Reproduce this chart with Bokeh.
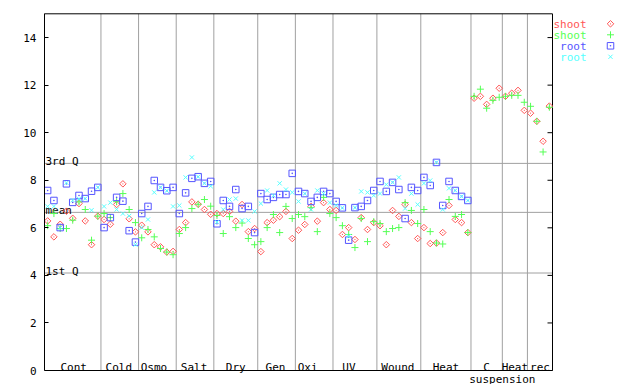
import math
from bokeh.plotting import figure
from bokeh.models import ColumnDataSource, LinearAxis, FixedTicker, Range1d, Label
from bokeh.core.properties import value
from bokeh.embed import file_html
from bokeh.resources import INLINE

nan = float("nan")

# ---------------- data ----------------
group_labels = ["Cont", "Cold", "Osmo", "Salt", "Dry", "Gen", "Oxi", "UV",
                "Wound", "Heat", "C", "Heat", "rec"]
group_sizes = [9, 6, 6, 6, 7, 6, 6, 7, 7, 8, 5, 4, 4]
sub_label = "suspension"
sub_label_group = 10  # index of "C" group, label set at its right edge

shoot_a = [6.29, 5.62, 6.15, 6.70, 6.40, 7.02, 6.29, 5.29, 6.49,
           6.35, 6.15, 6.98, 7.85, 6.38, 5.83,
           6.11, 5.83, 5.29, 5.20, 4.98, 5.01,
           5.93, 6.22, 7.09, 6.99, 6.77, 6.57,
           6.60, 6.60, 6.69, 6.28, 6.98, 5.84, 5.97,
           5.00, 6.22, 6.32, 6.47, 6.69, 5.55,
           5.90, 6.14, 6.90, 6.28, 7.06, 6.77,
           6.73, 5.72, 6.01, 5.51, 6.43, 5.93, 6.22,
           6.09, 5.29, 6.73, 6.48, 6.98, 6.22, 5.55,
           6.01, 5.34, 5.36, 5.80, 6.94, 6.35, 6.22, 5.80,
           11.45, 11.53, 11.19, 11.45, 11.87,
           11.53, 11.66, 11.78, 10.94,
           10.82, 10.48, 9.64, 11.12]
shoot_b = [6.09, 6.60, 5.97, 5.97, 6.32, 7.09, 6.77, 5.48, 6.49,
           6.60, 6.43, 7.10, 7.44, 6.77, 6.22,
           5.58, 5.93, 5.62, 5.13, 4.98, 4.87,
           5.76, 6.01, 6.81, 6.99, 7.19, 6.91,
           6.52, 5.76, 6.47, 6.01, 6.20, 5.55, 5.29,
           5.42, 6.01, 6.56, 5.80, 6.90, 6.39,
           6.56, 6.47, 6.85, 5.84, 7.28, 6.60,
           6.43, 6.09, 5.72, 5.17, 6.39, 5.42, 6.26,
           6.18, 5.84, 5.97, 6.01, 7.06, 6.73, 6.18,
           6.77, 5.84, 5.36, 5.32, 7.19, 6.48, 6.56, 5.80,
           11.53, 11.83, 11.03, 11.36, 11.49,
           11.53, 11.57, 11.57, 11.28,
           11.11, 10.48, 9.19, 11.07]
root_a = [7.57, 7.15, 6.01, 7.85, 7.07, 7.36, 7.23, 7.54, 7.70,
          6.01, 6.43, 7.28, 7.12, 5.88, 5.40,
          6.60, 6.90, 7.99, 7.70, 7.56, 7.70,
          6.60, 7.47, 8.08, 8.15, 7.87, 7.95,
          6.17, 7.15, 6.90, 7.61, 6.81, 6.90, 5.80,
          7.44, 7.19, 7.28, 7.40, 7.40, 8.29,
          7.53, 7.44, 7.11, 7.28, 7.53, 7.44,
          7.11, 6.84, 5.48, 6.85, 6.90, 7.15, 7.57,
          7.95, 7.53, 7.91, 7.61, 6.39, 7.70, 7.57,
          8.12, 7.78, 8.75, 6.94, 7.95, 7.57, 7.32, 7.15,
          nan, nan, nan, nan, nan, nan, nan, nan, nan, nan, nan, nan, nan]
root_b = [6.90, 6.90, 6.01, 7.89, 7.16, 7.22, 7.23, 6.74, 7.70,
          6.90, 7.06, 6.77, 6.60, 6.50, 5.29,
          6.01, 6.35, 7.49, 7.70, 7.56, 6.90,
          6.94, 8.12, 8.96, 8.15, 7.87, 7.75,
          6.24, 6.77, 7.19, 7.23, 6.31, 6.31, 6.69,
          7.02, 7.57, 7.36, 7.87, 7.61, 7.49,
          7.11, 7.44, 6.77, 7.57, 7.44, 7.06,
          6.94, 6.84, 5.65, 6.85, 7.53, 7.49, 7.36,
          7.44, 7.82, 7.91, 8.12, 6.81, 7.44, 6.98,
          7.87, 7.99, 8.75, 6.77, 7.66, 7.57, 7.32, 7.15,
          nan, nan, nan, nan, nan, nan, nan, nan, nan, nan, nan, nan, nan]

series_names = ["shoot", "shoot", "root", "root"]
ref_names = ["3rd Q", "mean", "1st Q"]
ref_values = [8.71, 6.65, 4.10]
y_ticks = [0, 2, 4, 6, 8, 10, 12, 14]
y_max = 15
y_title = "affy-normalized expression"

# ---------------- geometry / style ----------------
W, H = 640, 384
LEFT = 44
PLOT_W = 508
TOP_PAD = 13.3
BOTTOM_PAD = 14.0
FONT = "DejaVu Sans Mono"
FS = "11px"
GRAY = "#a0a0a0"
colors = ["#ff5555", "#55ff55", "#5555ff", "#55ffff"]
sizes = [4.6, 7, 6.5, 6]
# small pixel nudges of some group labels (as in the original layout)
label_nudge = [1, -1, -3.5, -1, 0, -1, -6.5, -6, -1, 0, 0, 0, 0]

n = sum(group_sizes)
ppu = PLOT_W / n
x_lo, x_hi = 0.5, n + 0.5
x_end = x_lo + (W - LEFT) / ppu
ppy = (H - TOP_PAD - BOTTOM_PAD) / y_max

p = figure(width=W, height=H, output_backend="svg", toolbar_location=None,
           x_range=Range1d(x_lo, x_end),
           y_range=Range1d(-BOTTOM_PAD / ppy, y_max + TOP_PAD / ppy),
           x_axis_location=None, y_axis_location=None,
           min_border_left=LEFT, min_border_right=0, min_border_top=0,
           min_border_bottom=0)
p.outline_line_color = None
p.grid.grid_line_color = None
p.background_fill_color = "white"

yaxis = LinearAxis(ticker=FixedTicker(ticks=y_ticks), bounds=(0, y_max),
                   major_tick_in=4, major_tick_out=0,
                   minor_tick_in=0, minor_tick_out=0,
                   major_label_standoff=8,
                   major_label_text_font=FONT, major_label_text_font_size=FS,
                   major_label_text_color="black",
                   axis_line_color="black", major_tick_line_color="black")
p.add_layout(yaxis, "left")

# group separators
bounds = []
c = 0
for s in group_sizes[:-1]:
    c += s
    bounds.append(c + 0.5)
p.segment(x0=bounds, y0=[0] * len(bounds), x1=bounds, y1=[y_max] * len(bounds),
          line_color=GRAY, line_width=1)

# reference lines
p.segment(x0=[x_lo] * 3, y0=ref_values, x1=[x_hi] * 3, y1=ref_values,
          line_color=GRAY, line_width=1)
p.text(x=[x_lo] * 3, y=ref_values, text=ref_names, x_offset=1, y_offset=-1.5,
       text_baseline="alphabetic", text_align="left", text_color="black",
       text_font=value(FONT), text_font_size=FS)

# box (top, bottom, right)
p.segment(x0=[x_lo, x_lo, x_hi], y0=[y_max, 0, 0], x1=[x_hi, x_hi, x_hi],
          y1=[y_max, 0, y_max], line_color="black", line_width=1)
# right-side inward ticks
p.segment(x0=[x_hi] * len(y_ticks), y0=y_ticks,
          x1=[x_hi - 5 / ppu] * len(y_ticks), y1=y_ticks,
          line_color="black", line_width=1)

# group labels
centers = []
c = 0
for s in group_sizes:
    centers.append(c + (s + 1) / 2)
    c += s
lab_src = ColumnDataSource(dict(x=centers, y=[0] * len(centers), t=group_labels,
                                dx=label_nudge))
p.text(x="x", y="y", text="t", x_offset="dx", y_offset=-3, source=lab_src,
       text_baseline="alphabetic", text_align="center", text_color="black",
       text_font=value(FONT), text_font_size=FS)
sub_x = sum(group_sizes[:sub_label_group + 1]) + 0.5
p.text(x=[sub_x], y=[0], text=[sub_label], y_offset=8.5,
       text_baseline="alphabetic", text_align="center", text_color="black",
       text_font=value(FONT), text_font_size=FS)

# data points
xs = list(range(1, n + 1))
src = ColumnDataSource(dict(x=xs, a=shoot_a, b=shoot_b, c=root_a, d=root_b))
p.scatter("x", "a", source=src, marker="square_dot", angle=math.pi / 4, size=sizes[0],
          fill_color=None, line_color=colors[0], line_width=1)
p.scatter("x", "b", source=src, marker="cross", size=sizes[1],
          line_color=colors[1], line_width=1)
p.scatter("x", "c", source=src, marker="square_dot", size=sizes[2],
          fill_color=None, line_color=colors[2], line_width=1)
p.scatter("x", "d", source=src, marker="x", size=sizes[3],
          line_color=colors[3], line_width=1)

# legend (text then marker, outside the box on the right)
leg_y0 = y_max - (23.3 - TOP_PAD) / ppy
leg_dy = 11 / ppy
leg_ys = [leg_y0 - i * leg_dy for i in range(4)]
leg_text_x = x_hi + 34 / ppu
leg_mark_x = x_hi + 58 / ppu
p.text(x=[leg_text_x] * 4, y=leg_ys, text=series_names, y_offset=1,
       text_baseline="middle", text_align="right", text_color=colors,
       text_font=value(FONT), text_font_size=FS)
p.scatter([leg_mark_x], [leg_ys[0]], marker="square_dot", angle=math.pi / 4, size=sizes[0],
          fill_color=None, line_color=colors[0], line_width=1)
p.scatter([leg_mark_x], [leg_ys[1]], marker="cross", size=sizes[1],
          line_color=colors[1], line_width=1)
p.scatter([leg_mark_x], [leg_ys[2]], marker="square_dot", size=sizes[2],
          fill_color=None, line_color=colors[2], line_width=1)
p.scatter([leg_mark_x], [leg_ys[3]], marker="x", size=sizes[3],
          line_color=colors[3], line_width=1)

# y-axis title
p.add_layout(Label(x=10.5 - LEFT, y=H - 185, x_units="screen", y_units="screen",
                   text=y_title, angle=math.pi / 2, text_align="center",
                   text_baseline="middle", text_font=FONT, text_font_size=FS,
                   text_color="black"))

open("out.html", "w").write(file_html(p, INLINE))
